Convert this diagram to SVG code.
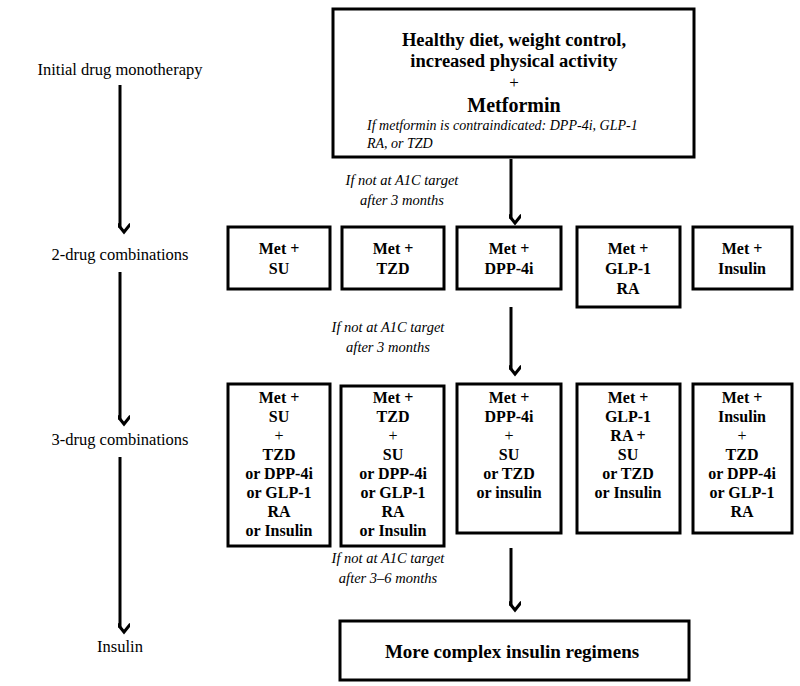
<svg xmlns="http://www.w3.org/2000/svg" width="800" height="686" viewBox="0 0 800 686">
<defs>
<marker id="ah" viewBox="0 0 16 12" refX="8" refY="10" markerWidth="16" markerHeight="12" markerUnits="userSpaceOnUse" orient="auto">
<polyline points="1.5,2 8,10 14.5,2" transform="rotate(-90 8 6)" fill="none" stroke="#000" stroke-width="3"/>
</marker>
</defs>
<rect width="800" height="686" fill="#fff"/>
<g id="stage-labels">
<text font-family="Liberation Serif" font-size="16.5" text-anchor="middle" x="120" y="75">Initial drug monotherapy</text>
<text font-family="Liberation Serif" font-size="16.5" text-anchor="middle" x="120" y="260">2-drug combinations</text>
<text font-family="Liberation Serif" font-size="16.5" text-anchor="middle" x="120" y="445">3-drug combinations</text>
<text font-family="Liberation Serif" font-size="16.5" text-anchor="middle" x="120" y="652">Insulin</text>
</g>
<g id="connectors">
<line stroke="#000" stroke-width="3" marker-end="url(#ah)" x1="120" y1="85" x2="120" y2="228"/>
<line stroke="#000" stroke-width="3" marker-end="url(#ah)" x1="120" y1="272" x2="120" y2="420"/>
<line stroke="#000" stroke-width="3" marker-end="url(#ah)" x1="120" y1="457" x2="120" y2="628"/>
<line stroke="#000" stroke-width="3" marker-end="url(#ah)" x1="511" y1="159" x2="511" y2="219"/>
<line stroke="#000" stroke-width="3" marker-end="url(#ah)" x1="511" y1="307" x2="511" y2="370"/>
<line stroke="#000" stroke-width="3" marker-end="url(#ah)" x1="511" y1="548" x2="511" y2="606"/>
<text font-family="Liberation Serif" font-style="italic" font-size="14.5" text-anchor="middle" x="402" y="185">If not at A1C target</text>
<text font-family="Liberation Serif" font-style="italic" font-size="14.5" text-anchor="middle" x="402" y="205">after 3 months</text>
<text font-family="Liberation Serif" font-style="italic" font-size="14.5" text-anchor="middle" x="388" y="332">If not at A1C target</text>
<text font-family="Liberation Serif" font-style="italic" font-size="14.5" text-anchor="middle" x="388" y="352">after 3 months</text>
<text font-family="Liberation Serif" font-style="italic" font-size="14.5" text-anchor="middle" x="388" y="563">If not at A1C target</text>
<text font-family="Liberation Serif" font-style="italic" font-size="14.5" text-anchor="middle" x="388" y="583">after 3–6 months</text>
</g>
<g id="initial">
<rect x="333" y="9" width="361" height="148" fill="#fff" stroke="#000" stroke-width="3"/>
<text font-family="Liberation Serif" font-weight="bold" font-size="18.5" text-anchor="middle" x="514" y="46">Healthy diet, weight control,</text>
<text font-family="Liberation Serif" font-weight="bold" font-size="18.5" text-anchor="middle" x="514" y="67">increased physical activity</text>
<text font-family="Liberation Serif" font-size="17" text-anchor="middle" x="514" y="88">+</text>
<text font-family="Liberation Serif" font-weight="bold" font-size="20" text-anchor="middle" x="514" y="112">Metformin</text>
<text font-family="Liberation Serif" font-style="italic" font-size="14" x="367" y="130">If metformin is contraindicated: DPP-4i, GLP-1</text>
<text font-family="Liberation Serif" font-style="italic" font-size="14" x="367" y="148">RA, or TZD</text>
</g>
<g id="two-su">
<rect x="228" y="227" width="102" height="62" fill="#fff" stroke="#000" stroke-width="3"/>
<text font-family="Liberation Serif" font-weight="bold" font-size="16" text-anchor="middle" x="279" y="254">Met +</text>
<text font-family="Liberation Serif" font-weight="bold" font-size="16" text-anchor="middle" x="279" y="274">SU</text>
</g>
<g id="two-tzd">
<rect x="342" y="227" width="102" height="62" fill="#fff" stroke="#000" stroke-width="3"/>
<text font-family="Liberation Serif" font-weight="bold" font-size="16" text-anchor="middle" x="393" y="254">Met +</text>
<text font-family="Liberation Serif" font-weight="bold" font-size="16" text-anchor="middle" x="393" y="274">TZD</text>
</g>
<g id="two-dpp4i">
<rect x="457" y="227" width="104" height="62" fill="#fff" stroke="#000" stroke-width="3"/>
<text font-family="Liberation Serif" font-weight="bold" font-size="16" text-anchor="middle" x="509" y="254">Met +</text>
<text font-family="Liberation Serif" font-weight="bold" font-size="16" text-anchor="middle" x="509" y="274">DPP-4i</text>
</g>
<g id="two-glp1">
<rect x="577" y="227" width="103" height="80" fill="#fff" stroke="#000" stroke-width="3"/>
<text font-family="Liberation Serif" font-weight="bold" font-size="16" text-anchor="middle" x="628" y="254">Met +</text>
<text font-family="Liberation Serif" font-weight="bold" font-size="16" text-anchor="middle" x="628" y="274">GLP-1</text>
<text font-family="Liberation Serif" font-weight="bold" font-size="16" text-anchor="middle" x="628" y="294">RA</text>
</g>
<g id="two-insulin">
<rect x="693" y="227" width="99" height="62" fill="#fff" stroke="#000" stroke-width="3"/>
<text font-family="Liberation Serif" font-weight="bold" font-size="16" text-anchor="middle" x="742" y="254">Met +</text>
<text font-family="Liberation Serif" font-weight="bold" font-size="16" text-anchor="middle" x="742" y="274">Insulin</text>
</g>
<g id="three-su">
<rect x="228" y="384" width="102" height="162" fill="#fff" stroke="#000" stroke-width="3"/>
<text font-family="Liberation Serif" font-weight="bold" font-size="16" text-anchor="middle" x="279" y="403">Met +</text>
<text font-family="Liberation Serif" font-weight="bold" font-size="16" text-anchor="middle" x="279" y="422">SU</text>
<text font-family="Liberation Serif" font-size="16" text-anchor="middle" x="279" y="441">+</text>
<text font-family="Liberation Serif" font-weight="bold" font-size="16" text-anchor="middle" x="279" y="460">TZD</text>
<text font-family="Liberation Serif" font-weight="bold" font-size="16" text-anchor="middle" x="279" y="479">or DPP-4i</text>
<text font-family="Liberation Serif" font-weight="bold" font-size="16" text-anchor="middle" x="279" y="498">or GLP-1</text>
<text font-family="Liberation Serif" font-weight="bold" font-size="16" text-anchor="middle" x="279" y="517">RA</text>
<text font-family="Liberation Serif" font-weight="bold" font-size="16" text-anchor="middle" x="279" y="536">or Insulin</text>
</g>
<g id="three-tzd">
<rect x="341" y="386" width="103" height="160" fill="#fff" stroke="#000" stroke-width="3"/>
<text font-family="Liberation Serif" font-weight="bold" font-size="16" text-anchor="middle" x="393" y="403">Met +</text>
<text font-family="Liberation Serif" font-weight="bold" font-size="16" text-anchor="middle" x="393" y="422">TZD</text>
<text font-family="Liberation Serif" font-size="16" text-anchor="middle" x="393" y="441">+</text>
<text font-family="Liberation Serif" font-weight="bold" font-size="16" text-anchor="middle" x="393" y="460">SU</text>
<text font-family="Liberation Serif" font-weight="bold" font-size="16" text-anchor="middle" x="393" y="479">or DPP-4i</text>
<text font-family="Liberation Serif" font-weight="bold" font-size="16" text-anchor="middle" x="393" y="498">or GLP-1</text>
<text font-family="Liberation Serif" font-weight="bold" font-size="16" text-anchor="middle" x="393" y="517">RA</text>
<text font-family="Liberation Serif" font-weight="bold" font-size="16" text-anchor="middle" x="393" y="536">or Insulin</text>
</g>
<g id="three-dpp4i">
<rect x="457" y="384" width="104" height="149" fill="#fff" stroke="#000" stroke-width="3"/>
<text font-family="Liberation Serif" font-weight="bold" font-size="16" text-anchor="middle" x="509" y="403">Met +</text>
<text font-family="Liberation Serif" font-weight="bold" font-size="16" text-anchor="middle" x="509" y="422">DPP-4i</text>
<text font-family="Liberation Serif" font-size="16" text-anchor="middle" x="509" y="441">+</text>
<text font-family="Liberation Serif" font-weight="bold" font-size="16" text-anchor="middle" x="509" y="460">SU</text>
<text font-family="Liberation Serif" font-weight="bold" font-size="16" text-anchor="middle" x="509" y="479">or TZD</text>
<text font-family="Liberation Serif" font-weight="bold" font-size="16" text-anchor="middle" x="509" y="498">or insulin</text>
</g>
<g id="three-glp1">
<rect x="577" y="384" width="103" height="149" fill="#fff" stroke="#000" stroke-width="3"/>
<text font-family="Liberation Serif" font-weight="bold" font-size="16" text-anchor="middle" x="628" y="403">Met +</text>
<text font-family="Liberation Serif" font-weight="bold" font-size="16" text-anchor="middle" x="628" y="422">GLP-1</text>
<text font-family="Liberation Serif" font-weight="bold" font-size="16" text-anchor="middle" x="628" y="441">RA +</text>
<text font-family="Liberation Serif" font-weight="bold" font-size="16" text-anchor="middle" x="628" y="460">SU</text>
<text font-family="Liberation Serif" font-weight="bold" font-size="16" text-anchor="middle" x="628" y="479">or TZD</text>
<text font-family="Liberation Serif" font-weight="bold" font-size="16" text-anchor="middle" x="628" y="498">or Insulin</text>
</g>
<g id="three-insulin">
<rect x="693" y="384" width="99" height="149" fill="#fff" stroke="#000" stroke-width="3"/>
<text font-family="Liberation Serif" font-weight="bold" font-size="16" text-anchor="middle" x="742" y="403">Met +</text>
<text font-family="Liberation Serif" font-weight="bold" font-size="16" text-anchor="middle" x="742" y="422">Insulin</text>
<text font-family="Liberation Serif" font-size="16" text-anchor="middle" x="742" y="441">+</text>
<text font-family="Liberation Serif" font-weight="bold" font-size="16" text-anchor="middle" x="742" y="460">TZD</text>
<text font-family="Liberation Serif" font-weight="bold" font-size="16" text-anchor="middle" x="742" y="479">or DPP-4i</text>
<text font-family="Liberation Serif" font-weight="bold" font-size="16" text-anchor="middle" x="742" y="498">or GLP-1</text>
<text font-family="Liberation Serif" font-weight="bold" font-size="16" text-anchor="middle" x="742" y="517">RA</text>
</g>
<g id="complex-insulin">
<rect x="340" y="621" width="349" height="59" fill="#fff" stroke="#000" stroke-width="3"/>
<text font-family="Liberation Serif" font-weight="bold" font-size="19" text-anchor="middle" x="512" y="658">More complex insulin regimens</text>
</g>
</svg>
